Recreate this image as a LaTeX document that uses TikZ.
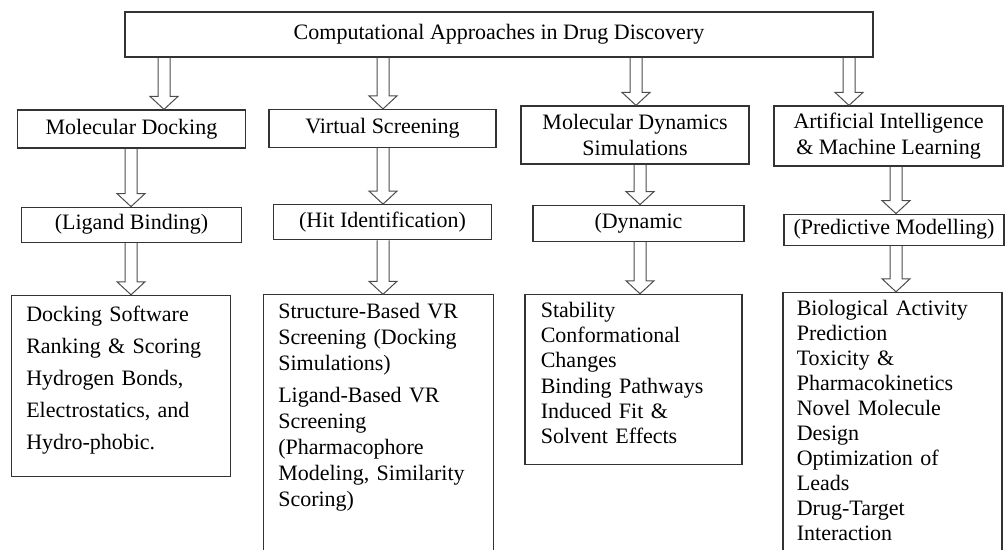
\documentclass[tikz,border=0pt]{standalone}
\usepackage{fontspec}
\setmainfont{Liberation Serif}
\usetikzlibrary{positioning,calc}

\newcommand{\hollowarrow}[3]{%
  \draw[hollow] ($(#2.south -| #1)+(-3pt,0)$) -- ($(#3.north -| #1)+(-3pt,6.5pt)$)
    -- ($(#3.north -| #1)+(-7pt,6.5pt)$) -- (#3.north -| #1)
    -- ($(#3.north -| #1)+(7pt,6.5pt)$) -- ($(#3.north -| #1)+(3pt,6.5pt)$)
    -- ($(#2.south -| #1)+(3pt,0)$);}

\begin{document}
\begin{tikzpicture}[
    x=0.5pt, y=-0.5pt,
    box/.style={rectangle, draw=black!80, line width=0.6pt, inner sep=0pt},
    head/.style={box, minimum width=374pt, minimum height=22.5pt, font=\fontsize{11}{13}\selectfont},
    topic/.style={box, minimum width=114pt, minimum height=19pt, align=center, font=\fontsize{11}{13}\selectfont},
    focus/.style={box, minimum width=110pt, minimum height=17.5pt, font=\fontsize{11}{13}\selectfont},
    detail/.style={box, minimum width=109.5pt},
    detailtext/.style={anchor=north west, inner sep=0pt, text width=102pt, align=left},
    hollow/.style={draw=black!70, line width=0.5pt, line join=miter}
]
\useasboundingbox (0,0) rectangle (1005,550);

\node[head] (root) at (499,34.5) {Computational Approaches in Drug Discovery};

\node[topic] (dock) at (131.5,129) {Molecular Docking};
\node[topic, minimum width=113.5pt] (vs) at (382.5,128.5) {Virtual Screening};
\node[topic, minimum height=29pt] (mds) at (635,135) {Molecular Dynamics\\Simulations};
\node[topic, minimum width=114.5pt, minimum height=30pt] (ai) at (888.5,136) {Artificial Intelligence\\\& Machine Learning};

\node[focus] (lig) [below=29pt of dock] {(Ligand Binding)};
\node[focus, minimum width=109pt] (hit) [below=28pt of vs] {(Hit Identification)};
\node[focus, minimum width=105.5pt, minimum height=18pt] (dyn) [below=20pt of mds, xshift=1.75pt] {(Dynamic};
\node[focus, minimum height=15.5pt] (pred) [below=23.5pt of ai, xshift=2.75pt] {(Predictive Modelling)};

\node[detail, minimum height=90.5pt] (b1) [below=26pt of lig, xshift=-5.25pt] {};
\node[detail, minimum width=115pt, minimum height=140pt] (b2) [below=27pt of hit, xshift=-2pt] {};
\node[detail, minimum width=108.5pt, minimum height=85pt] (b3) [below=26pt of dyn, xshift=-2.5pt] {};
\node[detail, minimum height=140pt] (b4) [below=23pt of pred, xshift=-0.75pt] {};

\node[detailtext, font=\fontsize{11}{16}\selectfont] (b1t) at ($(b1.north west)+(7.5pt,-5.5pt)$)
  {Docking Software\\Ranking \& Scoring\\Hydrogen Bonds,\\Electrostatics, and\\Hydro-phobic.};
\node[detailtext, font=\fontsize{11}{13}\selectfont] (b2t) at ($(b2.north west)+(7.5pt,-4.5pt)$)
  {Structure-Based VR\\Screening (Docking\\Simulations)\\[3pt]Ligand-Based VR\\Screening\\(Pharmacophore\\Modeling, Similarity\\Scoring)};
\node[detailtext, font=\fontsize{11}{12.6}\selectfont] (b3t) at ($(b3.north west)+(8pt,-4pt)$)
  {Stability\\Conformational\\Changes\\Binding Pathways\\Induced Fit \&\\Solvent Effects};
\node[detailtext, font=\fontsize{11}{12.5}\selectfont] (b4t) at ($(b4.north west)+(7pt,-4pt)$)
  {Biological Activity\\Prediction\\Toxicity \&\\Pharmacokinetics\\Novel Molecule\\Design\\Optimization of\\Leads\\Drug-Target\\Interaction};

\coordinate (ta) at (164,0);
\coordinate (tb) at (383,0);
\coordinate (tc) at (636,0);
\coordinate (td) at (849,0);
\coordinate (ca) at (131,0);
\coordinate (cb) at (383,0);
\coordinate (cc) at (640,0);
\coordinate (cd) at (896,0);

\hollowarrow{ta}{root}{dock}
\hollowarrow{tb}{root}{vs}
\hollowarrow{tc}{root}{mds}
\hollowarrow{td}{root}{ai}

\hollowarrow{ca}{dock}{lig}
\hollowarrow{cb}{vs}{hit}
\hollowarrow{cc}{mds}{dyn}
\hollowarrow{cd}{ai}{pred}

\hollowarrow{ca}{lig}{b1}
\hollowarrow{cb}{hit}{b2}
\hollowarrow{cc}{dyn}{b3}
\hollowarrow{cd}{pred}{b4}
\end{tikzpicture}
\end{document}
